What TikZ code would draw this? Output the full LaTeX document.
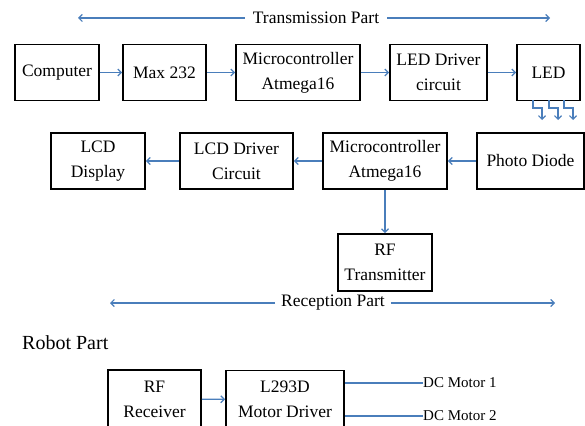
\documentclass[tikz,border=0pt]{standalone}
\usepackage{fontspec}
\setmainfont{Liberation Serif}
\usetikzlibrary{arrows.meta,calc}
\definecolor{conn}{RGB}{74,126,187}
\tikzset{
  x=1pt,y=1pt,
  blk/.style={draw=black,line width=1.8pt,align=center,inner sep=0pt,
    font=\fontsize{17.5}{25}\selectfont},
  arr/.style={draw=conn,line width=1.2pt,-{Straight Barb[length=3.5pt,width=7pt]}},
  ln/.style={draw=conn,line width=1.2pt},
  lbl/.style={inner sep=0pt,font=\fontsize{17.5}{20}\selectfont},
}
\begin{document}
\begin{tikzpicture}
\useasboundingbox (0,0) rectangle (585,-425);
% Transmission part header
\node[lbl,inner xsep=8pt] (tp) at (316,-18) {Transmission Part};
\coordinate (tpl) at (78,-18);
\coordinate (tpr) at (550,-18);
\draw[arr] (tp.west) -- (tpl);
\draw[arr] (tp.east) -- (tpr);
% Row 1
\node[blk,minimum width=84pt,minimum height=56pt] (comp) at (57,-72.5) {Computer};
\node[blk,minimum width=83pt,minimum height=56pt] (max) at (164.5,-72.5) {Max 232};
\node[blk,minimum width=124pt,minimum height=56pt] (mca) at (298,-72.5) {Microcontroller\\Atmega16};
\node[blk,minimum width=97pt,minimum height=56pt] (ledd) at (438.5,-72.5) {LED Driver\\circuit};
\node[blk,minimum width=63pt,minimum height=56pt] (led) at (548.5,-72.5) {LED};
\draw[arr] (comp) -- (max);
\draw[arr] (max) -- (mca);
\draw[arr] (mca) -- (ledd);
\draw[arr] (ledd) -- (led);
% LED light arrows
\foreach \i/\xa in {1/533,2/549,3/564}{
  \coordinate (la\i) at (\xa,-100);
  \coordinate (lb\i) at (\xa+9,-120);
  \draw[arr] (la\i) |- ($(la\i)!0.4!(la\i |- lb\i)$) -| (lb\i);
}
% Row 2
\node[blk,minimum width=94pt,minimum height=56pt] (lcd) at (98,-161) {LCD\\Display};
\node[blk,minimum width=113pt,minimum height=56pt] (lcdd) at (236.5,-161) {LCD Driver\\Circuit};
\node[blk,minimum width=124pt,minimum height=56pt] (mcb) at (385,-161) {Microcontroller\\Atmega16};
\node[blk,minimum width=107pt,minimum height=56pt] (pd) at (530.5,-161) {Photo Diode};
\draw[arr] (pd) -- (mcb);
\draw[arr] (mcb) -- (lcdd);
\draw[arr] (lcdd) -- (lcd);
\node[blk,minimum width=94pt,minimum height=57pt] (rft) at (385,-262.5) {RF\\Transmitter};
\draw[arr] (mcb) -- (rft);
% Reception part
\node[lbl,inner xsep=6pt] (rp) at (333,-303) {Reception Part};
\coordinate (rpl) at (110,-303);
\coordinate (rpr) at (555,-303);
\draw[arr] (rp.west) -- (rpl);
\draw[arr] (rp.east) -- (rpr);
% Robot part
\node[inner sep=0pt,font=\fontsize{20}{24}\selectfont,anchor=west] (robot) at (22,-343) {Robot Part};
\node[blk,minimum width=93pt,minimum height=58pt] (rfr) at (154.5,-399) {RF\\Receiver};
\node[blk,minimum width=118pt,minimum height=58pt] (drv) at (285,-399.5) {L293D\\Motor Driver};
\draw[arr] (rfr) -- (drv);
\node[inner sep=0pt,font=\fontsize{15}{18}\selectfont,anchor=west] (m1) at (423,-383) {DC Motor 1};
\node[inner sep=0pt,font=\fontsize{15}{18}\selectfont,anchor=west] (m2) at (423,-416) {DC Motor 2};
\draw[ln] (drv.east |- m1.west) -- (m1.west);
\draw[ln] (drv.east |- m2.west) -- (m2.west);
\end{tikzpicture}
\end{document}
